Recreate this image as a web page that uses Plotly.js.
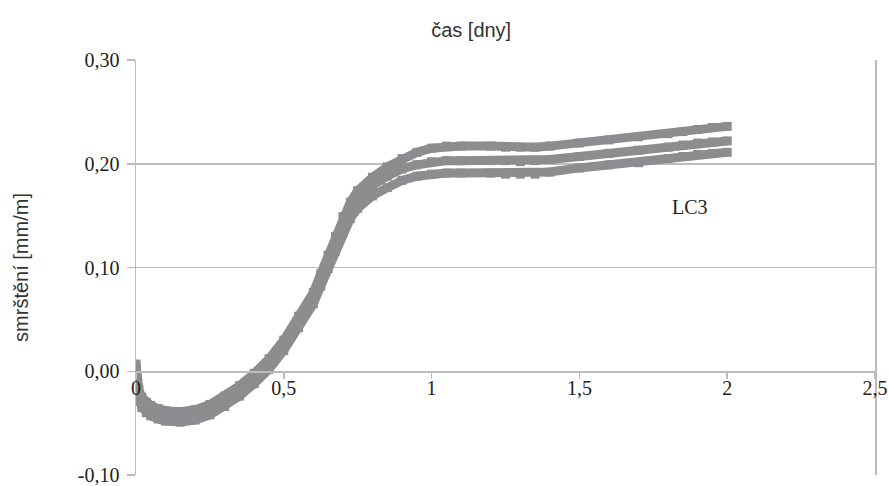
<!DOCTYPE html>
<html>
<head>
<meta charset="utf-8">
<script src="https://cdn.plot.ly/plotly-3.0.1.min.js"></script>
<style>html,body{margin:0;padding:0;background:#fff;}#chart{width:889px;height:486px;}</style>
</head>
<body>
<div id="chart"></div>
<script>
const xDays = [0, 0.005, 0.01, 0.02, 0.035, 0.05, 0.075, 0.1, 0.15, 0.2, 0.25, 0.3, 0.35, 0.4, 0.45, 0.5, 0.55, 0.6, 0.625, 0.65, 0.675, 0.7, 0.725, 0.75, 0.8, 0.85, 0.9, 0.95, 1.0, 1.05, 1.1, 1.2, 1.25, 1.3, 1.35, 1.4, 1.5, 1.6, 1.7, 1.8, 1.85, 1.9, 1.95, 2.0];
const seriesTop = [0.007, -0.010, -0.018, -0.025, -0.030, -0.033, -0.036, -0.038, -0.039, -0.037, -0.032, -0.024, -0.014, -0.002, 0.012, 0.030, 0.053, 0.076, 0.094, 0.112, 0.130, 0.149, 0.163, 0.174, 0.187, 0.197, 0.205, 0.211, 0.215, 0.217, 0.217, 0.217, 0.216, 0.216, 0.216, 0.217, 0.220, 0.223, 0.226, 0.229, 0.231, 0.233, 0.235, 0.236];
const seriesMid = [0.004, -0.015, -0.023, -0.030, -0.035, -0.038, -0.041, -0.043, -0.044, -0.042, -0.037, -0.029, -0.019, -0.007, 0.007, 0.025, 0.047, 0.070, 0.087, 0.105, 0.123, 0.141, 0.155, 0.166, 0.179, 0.188, 0.195, 0.199, 0.202, 0.203, 0.203, 0.203, 0.203, 0.202, 0.203, 0.204, 0.207, 0.210, 0.213, 0.216, 0.218, 0.220, 0.221, 0.222];
const seriesBot = [0.001, -0.020, -0.028, -0.035, -0.040, -0.043, -0.046, -0.048, -0.049, -0.047, -0.042, -0.034, -0.024, -0.012, 0.002, 0.020, 0.042, 0.065, 0.082, 0.099, 0.116, 0.134, 0.147, 0.157, 0.169, 0.177, 0.184, 0.188, 0.190, 0.191, 0.191, 0.191, 0.190, 0.190, 0.190, 0.192, 0.196, 0.199, 0.201, 0.205, 0.207, 0.209, 0.210, 0.211];
const xTickVals = [0, 0.5, 1, 1.5, 2, 2.5];
const yTickVals = [-0.1, 0, 0.1, 0.2, 0.3];
const labelText = "LC3";

const fmt = v => v.toFixed(2).replace('.', ',');
const col = '#8d8d8f';
const gridCol = '#bcbcbc';
function mk(y) {
  return {
    x: xDays, y: y, type: 'scatter', mode: 'lines+markers',
    line: {color: col, width: 9},
    marker: {symbol: 'square', size: 9, color: col, line: {color: col, width: 0}},
    hoverinfo: 'skip', showlegend: false
  };
}
const data = [mk(seriesBot), mk(seriesMid), mk(seriesTop)];

const serif = 'Liberation Serif, Times New Roman, serif';
const sans = 'Liberation Sans, Arial, sans-serif';
const layout = {
  width: 889, height: 486,
  margin: {l: 136, r: 14, t: 60, b: 11},
  paper_bgcolor: '#fff', plot_bgcolor: '#fff',
  separators: ',.',
  showlegend: false,
  title: {
    text: 'čas [dny]', xref: 'container', yref: 'container',
    x: 0.53, y: 1 - 30/486, xanchor: 'center', yanchor: 'middle',
    font: {family: sans, size: 20, color: '#333'}
  },
  xaxis: {
    range: [0, 2.5], tickvals: xTickVals,
    anchor: 'free', position: 0.25,
    showgrid: false, zeroline: false,
    showline: true, linecolor: gridCol, linewidth: 1.5,
    ticks: 'outside', ticklen: 6, tickcolor: gridCol, tickwidth: 1.5,
    ticklabelstandoff: -8,
    tickfont: {family: serif, size: 20, color: '#222'}
  },
  yaxis: {
    range: [-0.1, 0.3], tickvals: yTickVals, ticktext: yTickVals.map(fmt),
    showgrid: true, gridcolor: gridCol, gridwidth: 1.5,
    zeroline: false,
    showline: true, mirror: true, linecolor: gridCol, linewidth: 1.5,
    ticks: 'outside', ticklen: 8, tickcolor: gridCol, tickwidth: 1.5,
    ticklabelstandoff: 3,
    tickfont: {family: serif, size: 20, color: '#222'},
    title: {text: 'smrštění [mm/m]', standoff: 44,
      font: {family: sans, size: 20, color: '#333'}}
  },
  annotations: [{
    x: 1.875, y: 0.158, xref: 'x', yref: 'y', text: labelText, showarrow: false,
    font: {family: serif, size: 20, color: '#222'}
  }]
};
Plotly.newPlot('chart', data, layout, {staticPlot: true, displayModeBar: false});
</script>
</body>
</html>
